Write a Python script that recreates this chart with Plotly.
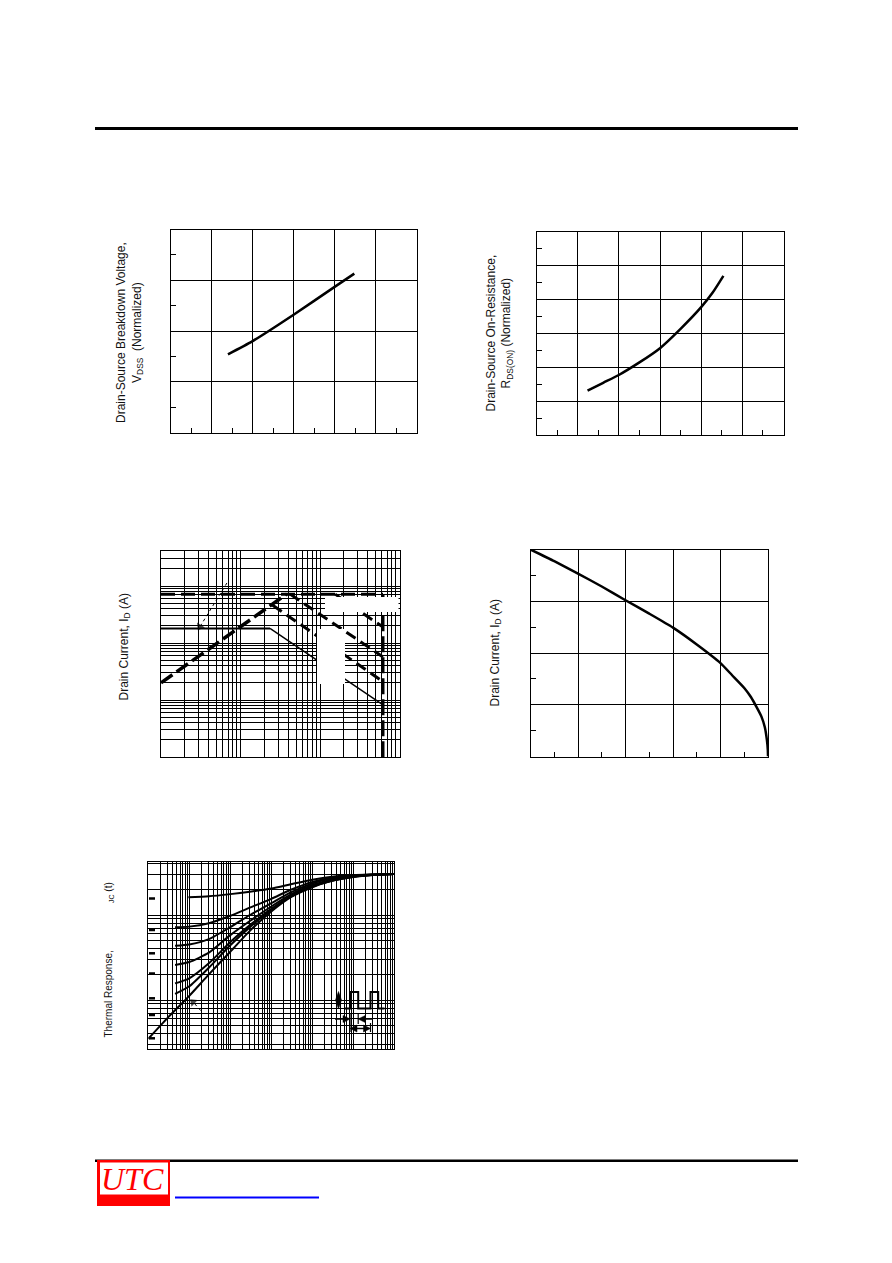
import plotly.graph_objects as go

# Page is rendered with an 8px body margin: the figure covers page pixels 8..892 / 8..1263
OFF = 8
W, H = 892 - OFF, 1263 - OFF


def px(x):
    return (x - OFF) / W


def py(y):
    return 1 - (y - OFF) / H


# ---------------- data ----------------
# Fig 1: breakdown voltage vs junction temperature (normalized)
bv_temp = [-30, 0, 50, 100, 124]
bv_norm = [0.954, 0.980, 1.032, 1.087, 1.113]

# Fig 2: on-resistance vs junction temperature (normalized)
rds_temp = [-38, -19, 0, 25, 50, 75, 100, 114, 127]
rds_norm = [0.654, 0.77, 0.885, 1.07, 1.28, 1.565, 1.885, 2.10, 2.346]

# Fig 3: safe operating area (log-log)
soa_rds_v = [1.0, 38.0]
soa_rds_i = [0.20, 7.2]
soa_idm_v = [1.0, 620.0]
soa_idm_i = [7.2, 7.2]
soa_id_v = [1.0, 23.5]
soa_id_i = [1.8, 1.8]
soa_dc_v = [23.5, 620.0]
soa_dc_i = [1.8, 0.082]
soa_10ms_v = [25.4, 620.0]
soa_10ms_i = [4.6, 0.21]
soa_1ms_v = [42.0, 620.0]
soa_1ms_i = [7.2, 0.57]
soa_100us_v = [155.0, 620.0]
soa_100us_i = [7.2, 1.9]
soa_vdss_v = [620.0, 620.0]
soa_vdss_i = [7.2, 0.01]
soa_arrow_v = [6.75, 3.09]
soa_arrow_i = [11.3, 1.93]

# Fig 4: drain current vs case temperature
id_tc = [25, 37.5, 50, 62.5, 75, 87.5, 100, 112.5, 125, 131, 137.5, 141, 144, 146.5, 148.3, 149.4, 149.9, 150]
id_amp = [8.0, 7.55, 7.07, 6.57, 6.04, 5.52, 4.98, 4.33, 3.61, 3.15, 2.65, 2.30, 1.91, 1.55, 1.14, 0.65, 0.25, 0.0]

# Fig 5: transient thermal response
t_full = [1e-5, 3e-5, 1e-4, 3e-4, 1e-3, 3e-3, 1e-2, 3e-2, 1e-1, 3e-1, 1, 3, 10]
t_d = [4.5e-5, 1e-4, 3e-4, 1e-3, 3e-3, 1e-2, 3e-2, 1e-1, 3e-1, 1, 3, 10]
t_d05 = [9.5e-5, 3e-4, 1e-3, 3e-3, 1e-2, 3e-2, 1e-1, 3e-1, 1, 3, 10]
z_single = [0.035, 0.062, 0.112, 0.20, 0.37, 0.65, 1.10, 1.62, 2.12, 2.52, 2.82, 2.97, 3.03]
z_d001 = [0.118, 0.145, 0.24, 0.44, 0.72, 1.15, 1.65, 2.15, 2.52, 2.80, 2.95, 3.03]
z_d002 = [0.157, 0.18, 0.27, 0.48, 0.76, 1.18, 1.68, 2.18, 2.55, 2.82, 2.96, 3.03]
z_d005 = [0.258, 0.28, 0.36, 0.58, 0.85, 1.26, 1.75, 2.25, 2.60, 2.85, 2.97, 3.03]
z_d01 = [0.435, 0.45, 0.52, 0.72, 1.00, 1.38, 1.85, 2.35, 2.68, 2.88, 2.98, 3.03]
z_d02 = [0.717, 0.73, 0.80, 0.98, 1.22, 1.55, 1.98, 2.45, 2.74, 2.90, 2.99, 3.04]
z_d05 = [1.62, 1.66, 1.76, 1.88, 2.05, 2.30, 2.60, 2.82, 2.95, 3.00, 3.04]
therm_arrow_t = [1.9e-4, 1.24e-4]
therm_arrow_z = [0.075, 0.0947]

fig = go.Figure()


def add_line(x, y, ax, width=2.5, dash="solid", shape="linear", smoothing=0.6):
    fig.add_trace(go.Scatter(
        x=x, y=y, xaxis="x" + ax, yaxis="y" + ax, mode="lines",
        line=dict(color="black", width=width, dash=dash, shape=shape, smoothing=smoothing),
        hoverinfo="skip", showlegend=False))


def add_arrow(x, y, ax, angle):
    fig.add_trace(go.Scatter(
        x=x, y=y, xaxis="x" + ax, yaxis="y" + ax, mode="lines+markers",
        line=dict(color="black", width=1, dash="dot"),
        marker=dict(symbol="triangle-up", size=[0, 8], angle=angle, color="black",
                    line=dict(width=0)),
        hoverinfo="skip", showlegend=False))


add_line(bv_temp, bv_norm, "", 2.5, shape="spline")
add_line(rds_temp, rds_norm, "2", 2.5, shape="spline")

add_line(soa_rds_v, soa_rds_i, "3", 3.5, "14px,5px")
add_line(soa_idm_v, soa_idm_i, "3", 3, "14px,6px")
add_line(soa_id_v, soa_id_i, "3", 2)
add_line(soa_dc_v, soa_dc_i, "3", 1.4)
add_line(soa_10ms_v, soa_10ms_i, "3", 3, "11px,6px")
add_line(soa_1ms_v, soa_1ms_i, "3", 3, "11px,6px")
add_line(soa_100us_v, soa_100us_i, "3", 3, "11px,6px")
add_line(soa_vdss_v, soa_vdss_i, "3", 3, "16px,5px")
add_arrow(soa_arrow_v, soa_arrow_i, "3", 211.6)

add_line(id_tc, id_amp, "4", 2.5, shape="spline", smoothing=0.5)

add_line(t_full, z_single, "5", 2, shape="spline")
for zz in (z_d001, z_d002, z_d005, z_d01, z_d02):
    add_line(t_d, zz, "5", 2, shape="spline")
add_line(t_d05, z_d05, "5", 2, shape="spline")
add_arrow(therm_arrow_t, therm_arrow_z, "5", 312.6)

lin_common = dict(showgrid=True, gridcolor="black", gridwidth=1, ticks="",
                  showticklabels=False, showline=True, linecolor="black",
                  linewidth=1, mirror=True, zeroline=False, fixedrange=True)
log_common = dict(type="log", showgrid=True, gridcolor="black", gridwidth=1,
                  ticks="", showticklabels=False, showline=True,
                  linecolor="black", linewidth=1, mirror=True, zeroline=False,
                  dtick=1, fixedrange=True,
                  minor=dict(showgrid=True, gridcolor="black", gridwidth=1,
                             dtick="D1", ticks=""))


def lin(dom, rng, dt, **kw):
    d = dict(lin_common)
    d.update(domain=dom, range=rng, dtick=dt, tick0=rng[0],
             minor=dict(ticks="inside", ticklen=5, tickwidth=1,
                        tickcolor="black", dtick=dt / 2, tick0=rng[0],
                        showgrid=False))
    d.update(kw)
    return d


def logax(dom, rng, **kw):
    d = dict(log_common)
    d.update(domain=dom, range=rng)
    d.update(kw)
    return d


fig.update_layout(
    width=W, height=H, autosize=False,
    margin=dict(l=0, r=0, t=0, b=0),
    paper_bgcolor="white", plot_bgcolor="white", showlegend=False,
    xaxis=lin([px(170.5), px(416.7)], [-100, 200], 50, anchor="y"),
    yaxis=lin([py(432.5), py(229.5)], [0.8, 1.2], 0.1, anchor="x"),
    xaxis2=lin([px(536.5), px(783.5)], [-100, 200], 50, anchor="y2"),
    yaxis2=lin([py(435), py(231.5)], [0, 3.0], 0.5, anchor="x2"),
    xaxis3=logax([px(161), px(399.5)], [0, 3.0], anchor="y3"),
    yaxis3=logax([py(757), py(551)], [-2, -2 + 206 / 57], anchor="x3"),
    xaxis4=lin([px(530.5), px(768)], [25, 150], 25, anchor="y4"),
    yaxis4=lin([py(756.5), py(549.5)], [0, 8], 2, anchor="x4"),
    xaxis5=logax([px(148.3), px(394.3)], [-5, 1], anchor="y5"),
    yaxis5=logax([py(1049.3), py(861.7)], [-(1049.3 - 915) / 85, (915 - 861.7) / 85], anchor="x5"),
)

shapes = []


def rect(x0, y0, x1, y1, color="white", layer="between"):
    shapes.append(dict(type="rect", xref="paper", yref="paper",
                       x0=px(x0), x1=px(x1), y0=py(y1), y1=py(y0),
                       fillcolor=color, line=dict(width=0), layer=layer))


def seg(x0, y0, x1, y1, w=1.5, color="black"):
    shapes.append(dict(type="line", xref="paper", yref="paper",
                       x0=px(x0), x1=px(x1), y0=py(y0), y1=py(y1),
                       line=dict(color=color, width=w), layer="above"))


def poly(pts, color="black"):
    p = "M " + " L ".join(f"{px(a):.5f},{py(b):.5f}" for a, b in pts) + " Z"
    shapes.append(dict(type="path", xref="paper", yref="paper", path=p,
                       fillcolor=color, line=dict(color=color, width=0.5),
                       layer="above"))


# page rules
rect(95, 127, 798, 130, "black", "above")
rect(95, 1159.5, 798, 1162, "black", "above")
# label backgrounds
rect(171.5, 230.5, 213, 266.5)           # fig1
rect(537.5, 232.5, 591.5, 264.5)         # fig2
rect(175, 556, 297, 583)                 # fig3 top-left
rect(162, 703.5, 230, 751)               # fig3 bottom-left
rect(325, 597, 398.5, 612, layer="above")  # fig3 right labels
rect(317, 629, 345, 684, layer="above")
rect(149.3, 889, 188, 908)               # fig5 labels
rect(149.3, 919, 175, 1012)
rect(271.5, 915, 391, 957)
rect(305, 991, 391, 1046.5)
rect(189, 1010, 255, 1034)
# fig5 small marks at left frame
for yy in (898.5, 930, 953.3, 973.5, 998.3, 1015, 1038.3):
    seg(149, yy, 155, yy, 2.5)
# pulse diagram
wave = [(344, 1008.5), (350, 1008.5), (350, 992), (358.2, 992), (358.2, 1008.5),
        (370.5, 1008.5), (370.5, 992), (378.2, 992), (378.2, 1008.5), (384.5, 1008.5)]
shapes.append(dict(type="path", xref="paper", yref="paper",
                   path="M " + " L ".join(f"{px(a):.5f},{py(b):.5f}" for a, b in wave),
                   line=dict(color="black", width=2), layer="above"))
poly([(338.5, 991.5), (341.5, 1000), (338.5, 1009), (335.5, 1000)])
seg(335, 1019, 344, 1019, 1.5)
poly([(350, 1019), (343, 1015.5), (343, 1022.5)])
seg(365, 1019, 373, 1019, 1.5)
poly([(358.2, 1019), (365.2, 1015.5), (365.2, 1022.5)])
seg(350, 1014, 350, 1032, 1.2)
seg(358.2, 1014, 358.2, 1024, 1.2)
seg(370.5, 1023, 370.5, 1032, 1.2)
seg(356, 1028.5, 365, 1028.5, 1.5)
poly([(350, 1028.5), (357, 1025), (357, 1032)])
poly([(370.5, 1028.5), (363.5, 1025), (363.5, 1032)])
# UTC logo
rect(97, 1160, 170, 1206, "#ff0000", "above")
rect(100, 1162.5, 168, 1194.5, "white", "above")
seg(175, 1197.5, 319, 1197.5, 2, "#0000ff")

fig.update_layout(shapes=shapes)

FONT = "Liberation Sans, Arial, sans-serif"
ann = []


def vlabel(x, y, text, size):
    ann.append(dict(xref="paper", yref="paper", x=px(x), y=py(y), text=text,
                    textangle=-90, showarrow=False, xanchor="center",
                    yanchor="middle", font=dict(family=FONT, size=size, color="#111")))


vlabel(129.5, 332.5, "Drain-Source Breakdown Voltage,<br>V<sub>DSS</sub>  (Normalized)", 12)
vlabel(499, 333.5, "Drain-Source On-Resistance,<br>R<sub>DS(ON)</sub> (Normalized)", 12)
vlabel(124.5, 647, "Drain Current, I<sub>D</sub> (A)", 12)
vlabel(495.5, 653, "Drain Current, I<sub>D</sub> (A)", 12)
vlabel(108.5, 960, "Thermal Response," + "\u00a0" * 17 + "<sub>JC</sub> (t)", 10)

ann.append(dict(xref="paper", yref="paper", x=px(132), y=py(1179), text="<i>UTC</i>",
                showarrow=False, xanchor="center", yanchor="middle",
                font=dict(family="Liberation Serif, Times New Roman, serif", size=32, color="#ff0000")))

fig.update_layout(annotations=ann)

fig.write_html("out.html")
